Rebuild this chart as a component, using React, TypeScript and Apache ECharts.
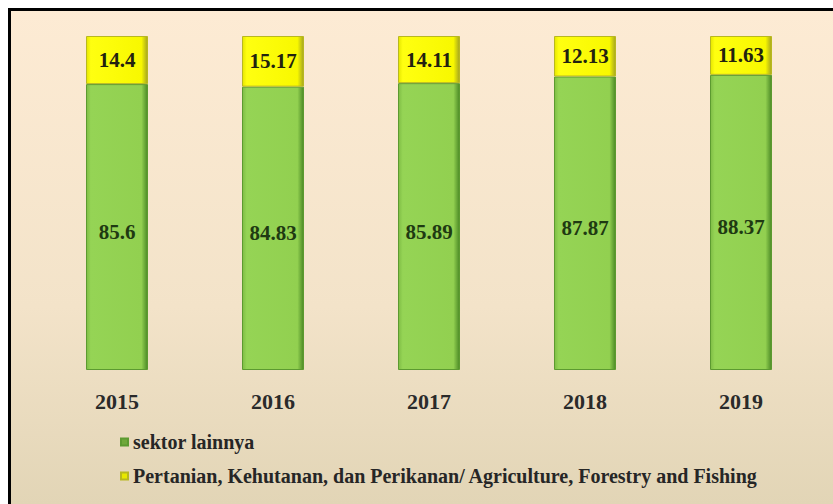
import React, { useEffect, useRef } from "react";
import * as echarts from "echarts";

const years = ["2015", "2016", "2017", "2018", "2019"];
const sektorLainnya = [85.6, 84.83, 85.89, 87.87, 88.37];
const pertanian = [14.4, 15.17, 14.11, 12.13, 11.63];
const seriesNames = [
  "sektor lainnya",
  "Pertanian, Kehutanan, dan Perikanan/ Agriculture, Forestry and Fishing",
];

const FONT = "'Liberation Serif', 'Times New Roman', serif";

export default function App() {
  const ref = useRef<HTMLDivElement>(null);
  useEffect(() => {
    if (!ref.current) return;
    const chart = echarts.init(ref.current, null, { renderer: "svg" });
    const greenFill = new echarts.graphic.LinearGradient(0, 0, 1, 0, [
      { offset: 0, color: "#7fbd45" },
      { offset: 0.07, color: "#95d455" },
      { offset: 0.9, color: "#92d050" },
      { offset: 1, color: "#4c8a26" },
    ]);
    const yellowFill = new echarts.graphic.LinearGradient(0, 0, 1, 0, [
      { offset: 0, color: "#e6e600" },
      { offset: 0.07, color: "#ffff10" },
      { offset: 0.9, color: "#f8f800" },
      { offset: 1, color: "#a5a520" },
    ]);
    chart.setOption({
      animation: false,
      backgroundColor: new echarts.graphic.LinearGradient(0, 0, 0, 1, [
        { offset: 0, color: "#fdebd4" },
        { offset: 0.6, color: "#f3e3c9" },
        { offset: 1, color: "#e2d5b6" },
      ]),
      grid: { left: 28, right: 14, top: 25, bottom: 134 },
      legend: {
        orient: "vertical",
        left: 104,
        top: 416,
        itemWidth: 7,
        itemHeight: 7,
        itemGap: 14,
        icon: "rect",
        data: [
          { name: seriesNames[0], itemStyle: { color: "#6fa83a" } },
          { name: seriesNames[1], itemStyle: { color: "#e8e800" } },
        ],
        textStyle: {
          fontFamily: FONT,
          fontWeight: "bold",
          fontSize: 20,
          color: "#262626",
        },
      },
      xAxis: {
        type: "category",
        data: years,
        axisLine: { show: false },
        axisTick: { show: false },
        axisLabel: {
          margin: 20,
          fontFamily: FONT,
          fontWeight: "bold",
          fontSize: 22,
          color: "#2a2a2a",
        },
      },
      yAxis: { type: "value", min: 0, max: 100, show: false },
      series: [
        {
          name: seriesNames[0],
          type: "bar",
          stack: "total",
          barWidth: 62,
          data: sektorLainnya,
          itemStyle: { color: greenFill, borderColor: "#5c9a30", borderWidth: 1 },
          label: {
            show: true,
            position: "inside",
            offset: [0, 5],
            fontFamily: FONT,
            fontWeight: "bold",
            fontSize: 21,
            color: "#1f3a12",
          },
        },
        {
          name: seriesNames[1],
          type: "bar",
          stack: "total",
          barWidth: 62,
          data: pertanian,
          itemStyle: { color: yellowFill, borderColor: "#b8b820", borderWidth: 1 },
          label: {
            show: true,
            position: "inside",
            fontFamily: FONT,
            fontWeight: "bold",
            fontSize: 21,
            color: "#222210",
          },
        },
      ],
    });
    return () => chart.dispose();
  }, []);
  return (
    <div
      style={{
        position: "fixed",
        left: 8,
        top: 8,
        width: 825,
        height: 496,
        borderTop: "3px solid #000",
        borderLeft: "3px solid #000",
        boxSizing: "border-box",
      }}
    >
      <div ref={ref} style={{ width: 822, height: 493 }} />
    </div>
  );
}
